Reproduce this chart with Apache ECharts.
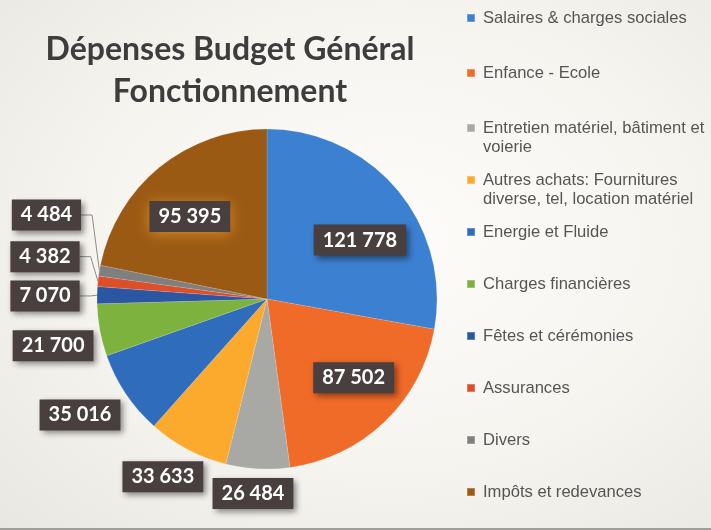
<!DOCTYPE html>
<html>
<head>
<meta charset="utf-8">
<script src="https://cdn.jsdelivr.net/npm/echarts@6/dist/echarts.min.js"></script>
<style>
  html, body { margin: 0; padding: 0; }
  #chart {
    width: 711px; height: 530px;
    background: radial-gradient(ellipse at 55% 45%, #fdfcfa 0%, #f6f4ef 55%, #e9e7e1 100%);
    box-shadow: inset 0 -2px 0 #a09e99;
  }
</style>
</head>
<body>
<div id="chart"></div>
<script>
// postes de dépenses (ordre du graphique, sens horaire depuis midi)
var categories = [
  "Salaires & charges sociales",
  "Enfance - Ecole",
  "Entretien matériel, bâtiment et voierie",
  "Autres achats: Fournitures diverse, tel, location matériel",
  "Energie et Fluide",
  "Charges financières",
  "Fêtes et cérémonies",
  "Assurances",
  "Divers",
  "Impôts et redevances"
];
var values = [121778, 87502, 26484, 33633, 35016, 21700, 7070, 4382, 4484, 95395];
// libellés de légende tels qu'ils sont coupés sur la diapo
var legendLabels = [
  "Salaires & charges sociales",
  "Enfance - Ecole",
  "Entretien matériel, bâtiment et\nvoierie",
  "Autres achats: Fournitures\ndiverse, tel, location matériel",
  "Energie et Fluide",
  "Charges financières",
  "Fêtes et cérémonies",
  "Assurances",
  "Divers",
  "Impôts et redevances"
];
var colors = ["#3c80d1", "#f06a28", "#a8a8a4", "#fbaa2e", "#2f6cbc",
              "#7db23f", "#2a56a2", "#dc4f28", "#7f7f7f", "#9b5a14"];

var CX = 267, CY = 299, R = 170;
// placement des étiquettes : [distance au centre en px, décalage angulaire en degrés]
var labelPlace = [[110, 7.5], [117, -4], [195, 1.0], [206, 2.5], [220, 2.1],
                  [219, -1.8], [222, -0.5], [226, 4.8], [236, 11.2], [113, -3.8]];
var insideIdx = [0, 1, 9];
var lineIdx = [6, 7, 8];

var total = values.reduce(function (a, b) { return a + b; }, 0);
var midAngles = [];
var acc = 0;
values.forEach(function (v) {
  midAngles.push((acc + v / 2) / total * 360);
  acc += v;
});

function fmt(v) {
  return String(v).replace(/\B(?=(\d{3})+(?!\d))/g, " ");
}

var data = categories.map(function (name, i) {
  var item = { name: name, value: values[i], itemStyle: { color: colors[i] } };
  item.label = { position: insideIdx.indexOf(i) >= 0 ? "inside" : "outside" };
  item.labelLine = { show: lineIdx.indexOf(i) >= 0 };
  if (i === 9) {
    item.label.shadowColor = "rgba(214,140,40,0.95)";
    item.label.shadowBlur = 14;
    item.label.shadowOffsetX = 0;
    item.label.shadowOffsetY = 2;
  }
  return item;
});

// légende : un bloc par poste pour garder l'espacement régulier de la diapo
var legendCenters = [18, 73, 128, 180, 232, 284, 336, 388, 440, 492];
var LH = 19;
var legends = categories.map(function (name, i) {
  var multi = legendLabels[i].indexOf("\n") >= 0;
  return {
    data: [name],
    orient: "vertical",
    left: 466,
    top: multi ? legendCenters[i] - LH * 1.5 : legendCenters[i] - LH / 2,
    itemWidth: 8,
    itemHeight: 8,
    icon: "rect",
    selectedMode: false,
    padding: 0,
    itemGap: 0,
    formatter: function () {
      return multi ? "\n" + legendLabels[i] : legendLabels[i];
    },
    textStyle: {
      color: "#555",
      fontSize: 16.6,
      lineHeight: LH,
      fontFamily: "'Liberation Sans Narrow', 'Liberation Sans', Arial, sans-serif",
      padding: [0, 0, 0, 3]
    }
  };
});

var chart = echarts.init(document.getElementById("chart"), null, { renderer: "canvas" });
chart.setOption({
  backgroundColor: "transparent",
  animation: false,
  title: {
    text: "Dépenses Budget Général\nFonctionnement",
    left: 225,
    top: 24,
    textAlign: "center",
    textStyle: {
      color: "#3d3d3d",
      fontSize: 32,
      lineHeight: 42,
      fontWeight: "bold",
      fontFamily: "Lato, 'Open Sans', sans-serif"
    }
  },
  legend: legends,
  series: [{
    type: "pie",
    center: [CX, CY],
    radius: R,
    startAngle: 90,
    clockwise: true,
    avoidLabelOverlap: false,
    data: data,
    itemStyle: { borderColor: "rgba(255,255,255,0.25)", borderWidth: 0.5 },
    label: {
      show: true,
      formatter: function (p) { return fmt(p.value); },
      color: "#ffffff",
      fontSize: 20,
      fontWeight: "bold",
      fontFamily: "Lato, 'Open Sans', sans-serif",
      backgroundColor: "#4a3f3f",
      padding: [6, 9, 5, 9],
      shadowColor: "rgba(0,0,0,0.45)",
      shadowBlur: 6,
      shadowOffsetX: 3,
      shadowOffsetY: 3
    },
    labelLine: {
      show: false,
      lineStyle: { color: "#8c8c8c", width: 1 }
    },
    labelLayout: function (p) {
      var i = p.dataIndex;
      var pl = labelPlace[i];
      var a = (midAngles[i] + pl[1]) * Math.PI / 180;
      var x = CX + pl[0] * Math.sin(a);
      var y = CY - pl[0] * Math.cos(a);
      var out = { x: x, y: y, align: "center", verticalAlign: "middle" };
      if (lineIdx.indexOf(i) >= 0) {
        // trait de rappel : bord droit de l'étiquette -> coude -> bord de la part
        var m = midAngles[i] * Math.PI / 180;
        var right = x + p.labelRect.width / 2;
        out.labelLinePoints = [
          [right, y],
          [right + 11, y],
          [CX + R * Math.sin(m), CY - R * Math.cos(m)]
        ];
      }
      return out;
    }
  }]
});
</script>
</body>
</html>
